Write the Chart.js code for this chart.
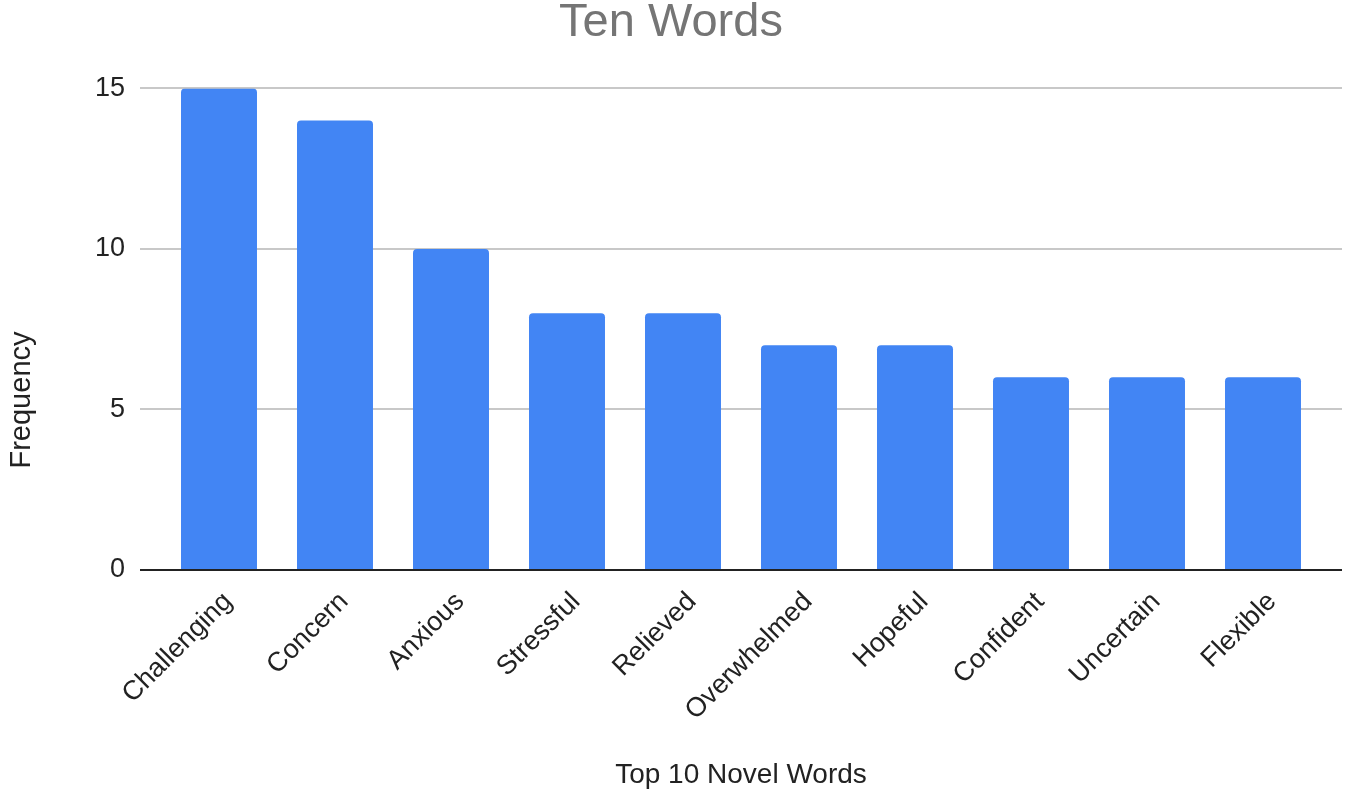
<!DOCTYPE html>
<html>
<head>
<meta charset="utf-8">
<script src="https://cdn.jsdelivr.net/npm/chart.js@4.4.1/dist/chart.umd.min.js"></script>
<style>
html,body{margin:0;padding:0;background:#fff;}
#wrap{width:1350px;height:800px;position:relative;}
</style>
</head>
<body>
<div id="wrap"><canvas id="c" width="1350" height="800"></canvas></div>
<script>
const categories = ["Challenging","Concern","Anxious","Stressful","Relieved","Overwhelmed","Hopeful","Confident","Uncertain","Flexible"];
const frequency = [15,14,10,8,8,7,7,6,6,6];
const yTicks = [0,5,10,15];
const yTitle = 'Frequency';

const FONT = "'Liberation Sans', Arial, Helvetica, sans-serif";
const gridColor = ctx => (ctx.tick && ctx.tick.value === 0) ? '#222222' : '#c8c8c8';

// Y-axis title centred on the whole canvas height (as in the reference)
const yTitlePlugin = {
  id: 'yTitlePlugin',
  afterDraw(chart) {
    const ctx = chart.ctx;
    ctx.save();
    ctx.translate(22, chart.height / 2);
    ctx.rotate(-Math.PI / 2);
    ctx.font = "29px " + FONT;
    ctx.fillStyle = '#222222';
    ctx.textAlign = 'center';
    ctx.textBaseline = 'middle';
    ctx.fillText(yTitle, 0, 0);
    ctx.restore();
  }
};

new Chart(document.getElementById('c'), {
  type: 'bar',
  data: {
    labels: categories,
    datasets: [{
      label: 'Frequency',
      data: frequency,
      backgroundColor: '#4285F4',
      borderRadius: {topLeft: 4, topRight: 4, bottomLeft: 0, bottomRight: 0},
      borderSkipped: 'start',
      categoryPercentage: 1.0,
      barPercentage: 0.655
    }]
  },
  plugins: [yTitlePlugin],
  options: {
    responsive: false,
    animation: false,
    devicePixelRatio: 1,
    layout: {padding: {left: 0, right: 8, top: 0, bottom: 0}},
    plugins: {
      legend: {display: false},
      tooltip: {enabled: false},
      title: {
        display: true,
        text: 'Ten Words',
        color: '#757575',
        font: {family: FONT, size: 47, weight: 'normal'},
        padding: {top: -5, bottom: 37}
      }
    },
    scales: {
      x: {
        grid: {display: false, drawTicks: false},
        border: {display: false},
        ticks: {
          color: '#222222',
          font: {family: FONT, size: 27},
          minRotation: 45,
          maxRotation: 45,
          autoSkip: false,
          padding: 16,
          labelOffset: 9
        },
        title: {
          display: true,
          text: 'Top 10 Novel Words',
          color: '#222222',
          font: {family: FONT, size: 28},
          padding: {top: 0, bottom: 8}
        },
        afterFit: s => { s.height = 230; }
      },
      y: {
        min: 0,
        max: 15,
        afterBuildTicks: s => { s.ticks = yTicks.map(v => ({value: v})); },
        grid: {
          color: gridColor,
          tickColor: gridColor,
          lineWidth: 2,
          tickWidth: 2,
          drawTicks: true,
          tickLength: 21
        },
        border: {display: false},
        ticks: {
          color: '#222222',
          font: {family: FONT, size: 27},
          padding: 15
        },
        title: {display: false},
        afterFit: s => { s.width = 161; }
      },
      y2: {
        position: 'right',
        min: 0,
        max: 15,
        afterBuildTicks: s => { s.ticks = yTicks.map(v => ({value: v})); },
        grid: {
          drawOnChartArea: false,
          color: gridColor,
          tickColor: gridColor,
          lineWidth: 2,
          tickWidth: 2,
          drawTicks: true,
          tickLength: 21
        },
        border: {display: false},
        ticks: {display: false},
        afterFit: s => { s.width = 21; }
      }
    }
  }
});
</script>
</body>
</html>
